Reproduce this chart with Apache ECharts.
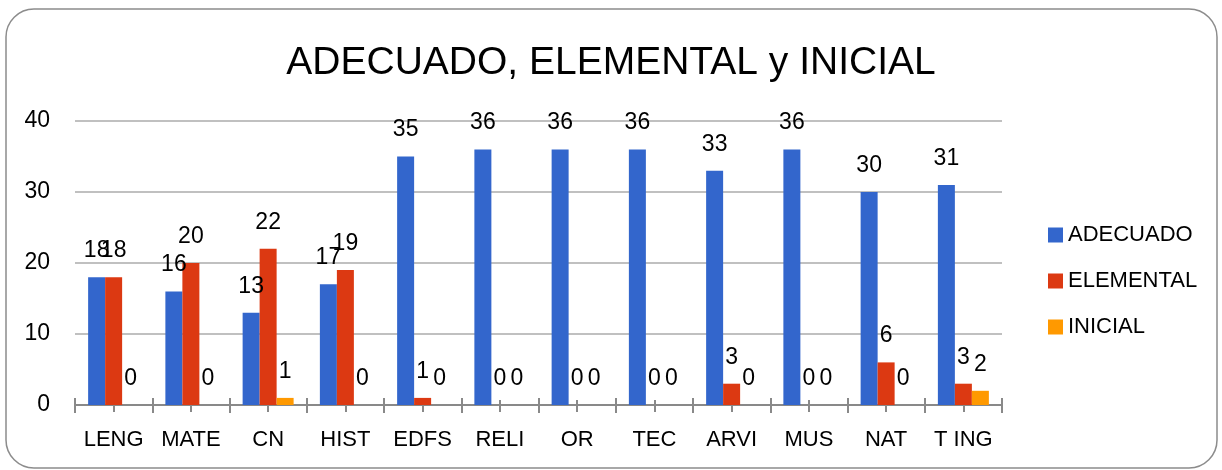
<!DOCTYPE html>
<html>
<head>
<meta charset="utf-8">
<script src="https://cdn.jsdelivr.net/npm/echarts@6/dist/echarts.min.js"></script>
<style>html,body{margin:0;padding:0;background:#fff;}#c{width:1222px;height:470px;}</style>
</head>
<body>
<div id="c"></div>
<script>
const categories = ['LENG','MATE','CN','HIST','EDFS','RELI','OR','TEC','ARVI','MUS','NAT','T ING'];
const adecuado = [18,16,13,17,35,36,36,36,33,36,30,31];
const elemental = [18,20,22,19,1,0,0,0,3,0,6,3];
const inicial = [0,0,1,0,0,0,0,0,0,0,0,2];
const yTicks = [0,10,20,30,40];

const FONT = 'Liberation Sans';
const chart = echarts.init(document.getElementById('c'));
const lbl = {show:true, position:'top', distance:15, color:'#000', fontSize:23, fontFamily:FONT};
function mkSeries(name, data, color){
  return {name, type:'bar', data, barWidth:17, barGap:'0%', itemStyle:{color}, label:lbl, xAxisIndex:0};
}
const tickAxis = (o) => Object.assign({
  type:'category', data:categories, position:'bottom',
  axisLine:{show:false}, axisLabel:{show:false}, splitLine:{show:false}
}, o);
chart.setOption({
  animation:false,
  graphic:[{type:'rect', shape:{x:6, y:9, width:1211, height:459, r:28}, style:{fill:'none', stroke:'#8c8c8c', lineWidth:1.5}, z:-1}],
  title:{text:'ADECUADO, ELEMENTAL y INICIAL', left:'center', top:39,
    textStyle:{fontFamily:FONT, fontSize:39, fontWeight:'normal', color:'#000'}},
  legend:{orient:'vertical', left:1043, top:219, itemWidth:15, itemHeight:15, itemGap:24,
    icon:'rect', textStyle:{fontFamily:FONT, fontSize:22, color:'#000'},
    data:['ADECUADO','ELEMENTAL','INICIAL']},
  grid:{left:75, right:220, top:121, bottom:65, containLabel:false},
  xAxis:[
    {type:'category', data:categories, position:'bottom',
      axisLine:{show:true, lineStyle:{color:'#898989', width:2}},
      axisTick:{show:true, interval:0, length:8, lineStyle:{color:'#898989', width:2}},
      axisLabel:{interval:0, margin:24, color:'#000', fontSize:22, fontFamily:FONT},
      splitLine:{show:false}},
    tickAxis({axisTick:{show:true, inside:true, interval:0, length:7, lineStyle:{color:'#898989', width:2}}}),
    tickAxis({axisTick:{show:true, alignWithLabel:true, interval:0, length:7, lineStyle:{color:'#898989', width:2}}}),
    tickAxis({axisTick:{show:true, inside:true, alignWithLabel:true, interval:0, length:5, lineStyle:{color:'#898989', width:2}}})
  ],
  yAxis:{type:'value', min:yTicks[0], max:yTicks[yTicks.length-1], interval:10,
    axisLine:{show:false}, axisTick:{show:false},
    axisLabel:{margin:25, color:'#000', fontSize:23, fontFamily:FONT},
    splitLine:{lineStyle:{color:'#c0c0c0', width:2}}},
  series:[
    mkSeries('ADECUADO', adecuado, '#3366CC'),
    mkSeries('ELEMENTAL', elemental, '#DC3912'),
    mkSeries('INICIAL', inicial, '#FF9900')
  ]
});
</script>
</body>
</html>
